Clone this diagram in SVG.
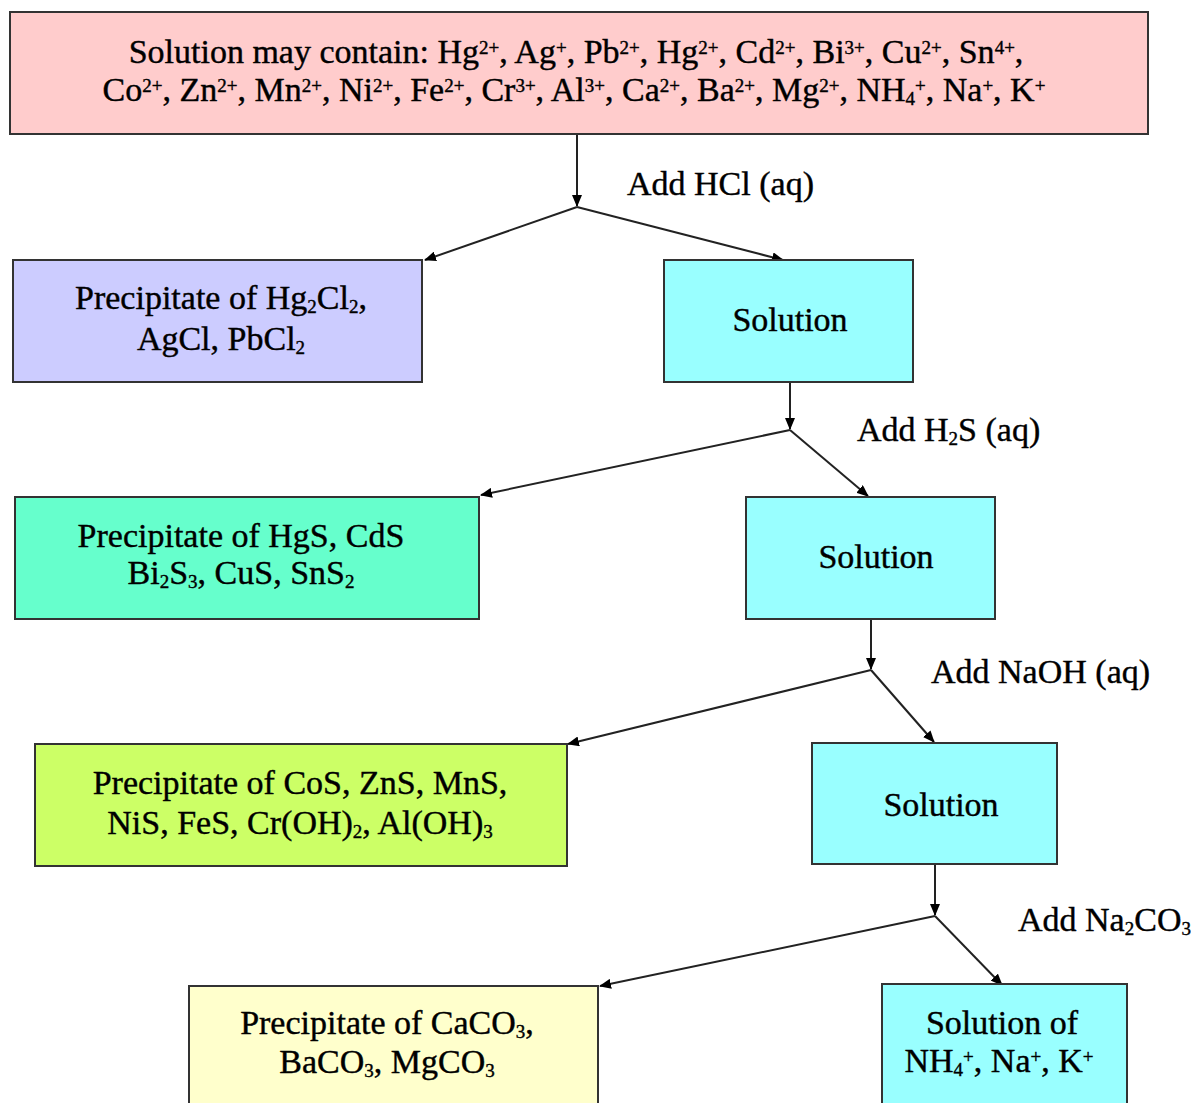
<svg xmlns="http://www.w3.org/2000/svg" width="1191" height="1103" viewBox="0 0 1191 1103">
<defs>
<marker id="ah" markerWidth="12" markerHeight="10" refX="11" refY="5" orient="auto" markerUnits="userSpaceOnUse">
<path d="M0,0 L12,5 L0,10 Z" fill="#000"/>
</marker>
<style>
.box{stroke:#333;stroke-width:2}
.t{font-family:"Liberation Serif","Times New Roman",serif;font-size:34px;fill:#000;stroke:#000;stroke-width:0.4;text-anchor:middle}
.l{font-family:"Liberation Serif","Times New Roman",serif;font-size:34px;fill:#000;stroke:#000;stroke-width:0.4}
.sup{font-size:19px;baseline-shift:45%}
.sub{font-size:19px;baseline-shift:-20%}
.c{stroke:#222;stroke-width:2;fill:none;marker-end:url(#ah)}
</style>
</defs>
<rect width="1191" height="1103" fill="#fff"/>
<g id="connectors">
<path class="c" d="M577,134 L577,206"/>
<path class="c" d="M577,207 L425,260"/>
<path class="c" d="M577,207 L783,260"/>
<path class="c" d="M790,383 L790,429"/>
<path class="c" d="M790,430 L481,495"/>
<path class="c" d="M790,430 L868,496"/>
<path class="c" d="M871,620 L871,669"/>
<path class="c" d="M871,670 L568,744"/>
<path class="c" d="M871,670 L934,742"/>
<path class="c" d="M935,865 L935,915"/>
<path class="c" d="M935,916 L600,986"/>
<path class="c" d="M935,916 L1002,985"/>
<text class="l" x="627" y="195">Add HCl (aq)</text>
<text class="l" x="857" y="441">Add H<tspan class="sub">2</tspan>S (aq)</text>
<text class="l" x="931" y="683">Add NaOH (aq)</text>
<text class="l" x="1018" y="931">Add Na<tspan class="sub">2</tspan>CO<tspan class="sub">3</tspan></text>
</g>
<g id="start">
<rect class="box" x="10" y="12" width="1138" height="122" fill="#ffcccc"/>
<text class="t" x="576" y="63">Solution may contain: Hg<tspan class="sup">2+</tspan>, Ag<tspan class="sup">+</tspan>, Pb<tspan class="sup">2+</tspan>, Hg<tspan class="sup">2+</tspan>, Cd<tspan class="sup">2+</tspan>, Bi<tspan class="sup">3+</tspan>, Cu<tspan class="sup">2+</tspan>, Sn<tspan class="sup">4+</tspan>,</text>
<text class="t" x="574" y="101">Co<tspan class="sup">2+</tspan>, Zn<tspan class="sup">2+</tspan>, Mn<tspan class="sup">2+</tspan>, Ni<tspan class="sup">2+</tspan>, Fe<tspan class="sup">2+</tspan>, Cr<tspan class="sup">3+</tspan>, Al<tspan class="sup">3+</tspan>, Ca<tspan class="sup">2+</tspan>, Ba<tspan class="sup">2+</tspan>, Mg<tspan class="sup">2+</tspan>, NH<tspan class="sub">4</tspan><tspan class="sup">+</tspan>, Na<tspan class="sup">+</tspan>, K<tspan class="sup">+</tspan></text>
</g>
<g id="ppt1">
<rect class="box" x="13" y="260" width="409" height="122" fill="#ccccff"/>
<text class="t" x="221" y="309">Precipitate of Hg<tspan class="sub">2</tspan>Cl<tspan class="sub">2</tspan>,</text>
<text class="t" x="221" y="350">AgCl, PbCl<tspan class="sub">2</tspan></text>
</g>
<g id="sol1">
<rect class="box" x="664" y="260" width="249" height="122" fill="#99ffff"/>
<text class="t" x="790" y="331">Solution</text>
</g>
<g id="ppt2">
<rect class="box" x="15" y="497" width="464" height="122" fill="#66ffcc"/>
<text class="t" x="241" y="547">Precipitate of HgS, CdS</text>
<text class="t" x="241" y="584">Bi<tspan class="sub">2</tspan>S<tspan class="sub">3</tspan>, CuS, SnS<tspan class="sub">2</tspan></text>
</g>
<g id="sol2">
<rect class="box" x="746" y="497" width="249" height="122" fill="#99ffff"/>
<text class="t" x="876" y="568">Solution</text>
</g>
<g id="ppt3">
<rect class="box" x="35" y="744" width="532" height="122" fill="#ccff66"/>
<text class="t" x="300" y="794">Precipitate of CoS, ZnS, MnS,</text>
<text class="t" x="300" y="834">NiS, FeS, Cr(OH)<tspan class="sub">2</tspan>, Al(OH)<tspan class="sub">3</tspan></text>
</g>
<g id="sol3">
<rect class="box" x="812" y="743" width="245" height="121" fill="#99ffff"/>
<text class="t" x="941" y="816">Solution</text>
</g>
<g id="ppt4">
<rect class="box" x="189" y="986" width="409" height="130" fill="#ffffcc"/>
<text class="t" x="387" y="1034">Precipitate of CaCO<tspan class="sub">3</tspan>,</text>
<text class="t" x="387" y="1073">BaCO<tspan class="sub">3</tspan>, MgCO<tspan class="sub">3</tspan></text>
</g>
<g id="sol4">
<rect class="box" x="882" y="984" width="245" height="130" fill="#99ffff"/>
<text class="t" x="1002" y="1034">Solution of</text>
<text class="t" x="999" y="1072">NH<tspan class="sub">4</tspan><tspan class="sup">+</tspan>, Na<tspan class="sup">+</tspan>, K<tspan class="sup">+</tspan></text>
</g>
</svg>
